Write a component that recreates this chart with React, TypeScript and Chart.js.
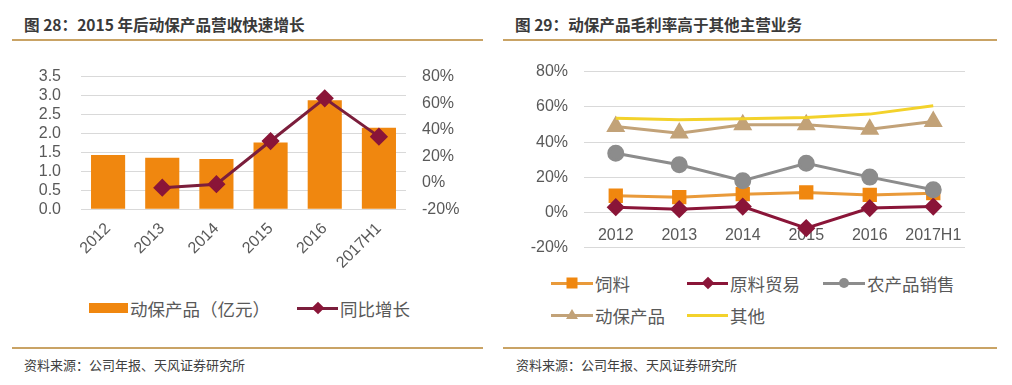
import React, { useEffect, useRef } from "react";
import Chart from "chart.js/auto";

const years = ["2012", "2013", "2014", "2015", "2016", "2017H1"];
const revenue = [1.43, 1.36, 1.33, 1.76, 2.88, 2.15];
const growth = [null, -3.7, -1.1, 31.5, 63.7, 34.8];

const feed = [9.5, 8.7, 10.4, 11.4, 10.0, 11.0];
const trade = [3.0, 1.9, 3.4, -8.9, 2.5, 3.4];
const agri = [33.7, 27.1, 18.0, 28.0, 20.1, 12.9];
const vet = [48.9, 45.1, 49.8, 49.8, 47.3, 51.7];
const other = [53.6, 52.7, 53.2, 54.0, 55.9, 60.6];

const FONT = '"Liberation Sans", "Noto Sans CJK SC", sans-serif';
const CJK = '"Noto Sans CJK SC", "Liberation Sans", sans-serif';
const TICK = "#595959";
const GRID = "#D9D9D9";
const GOLD = "#C9A365";

const ORANGE = "#F0870F";
const DARKRED = "#8A1538";
const GRAY = "#8C8C8C";
const TAN = "#C2A278";
const YELLOW = "#F3D22B";

const noPad = (s: any) => {
  s.paddingTop = 0;
  s.paddingBottom = 0;
};

function LeftChart() {
  const ref = useRef<HTMLCanvasElement>(null);
  useEffect(() => {
    const chart = new Chart(ref.current!, {
      type: "bar",
      data: {
        labels: years,
        datasets: [
          {
            type: "line",
            data: growth as any,
            yAxisID: "y1",
            borderColor: "#7B1E3C",
            borderWidth: 3,
            pointStyle: "rectRot",
            pointRadius: 7,
            pointBackgroundColor: DARKRED,
            pointBorderColor: DARKRED,
            order: 0,
          } as any,
          {
            type: "bar",
            data: revenue,
            yAxisID: "y",
            backgroundColor: ORANGE,
            barPercentage: 0.63,
            categoryPercentage: 1,
            order: 1,
          },
        ],
      },
      options: {
        animation: false,
        responsive: false,
        layout: { padding: { top: 16.7, left: 0, right: 0, bottom: 0 } },
        plugins: { legend: { display: false }, tooltip: { enabled: false } },
        scales: {
          x: {
            grid: { display: false, drawTicks: false },
            border: { display: false },
            ticks: {
              minRotation: 45,
              maxRotation: 45,
              autoSkip: false,
              padding: 10,
              color: TICK,
              font: { size: 16, family: FONT },
            },
            afterFit: (s: any) => {
              s.height = 75.7;
            },
          },
          y: {
            min: 0,
            max: 3.5,
            ticks: {
              stepSize: 0.5,
              autoSkip: false,
              callback: (v: any) => Number(v).toFixed(1),
              padding: 20,
              color: TICK,
              font: { size: 16, family: FONT },
            },
            grid: { color: GRID, drawTicks: false },
            border: { display: false },
            afterFit: (s: any) => {
              s.width = 81;
              noPad(s);
            },
          },
          y1: {
            position: "right",
            min: -20,
            max: 80,
            ticks: {
              stepSize: 20,
              autoSkip: false,
              callback: (v: any) => v + "%",
              padding: 16,
              color: TICK,
              font: { size: 16, family: FONT },
            },
            grid: { drawOnChartArea: false, drawTicks: false },
            border: { display: false },
            afterFit: (s: any) => {
              s.width = 84;
              noPad(s);
            },
          },
        },
      } as any,
    });
    return () => chart.destroy();
  }, []);
  return (
    <canvas
      ref={ref}
      width={490}
      height={225}
      style={{ position: "absolute", left: 0, top: 60, width: 490, height: 225 }}
    />
  );
}

function RightChart() {
  const ref = useRef<HTMLCanvasElement>(null);
  useEffect(() => {
    const mk = (data: number[], color: string, style: string, radius: number, pColor: string, order: number) => ({
      type: "line",
      data,
      borderColor: color,
      borderWidth: 3,
      pointStyle: style,
      pointRadius: radius,
      pointBackgroundColor: pColor,
      pointBorderColor: pColor,
      order,
    });
    const chart = new Chart(ref.current!, {
      type: "line",
      data: {
        labels: years,
        datasets: [
          mk(feed, "#E99A3A", "rect", 8, ORANGE, 5),
          mk(trade, DARKRED, "rectRot", 7, DARKRED, 4),
          mk(agri, GRAY, "circle", 7, GRAY, 3),
          mk(vet, TAN, "triangle", 8, TAN, 2),
          mk(other, YELLOW, "circle", 0, YELLOW, 1),
        ] as any,
      },
      options: {
        animation: false,
        responsive: false,
        layout: { padding: { top: 16.7, left: 0, right: 47, bottom: 17.3 } },
        plugins: { legend: { display: false }, tooltip: { enabled: false } },
        scales: {
          x: {
            position: { y: 0 },
            offset: true,
            grid: { display: false, drawTicks: false, offset: true },
            border: { display: false },
            ticks: {
              maxRotation: 0,
              minRotation: 0,
              autoSkip: false,
              padding: 13,
              color: TICK,
              font: { size: 16, family: FONT },
            },
          },
          y: {
            min: -20,
            max: 80,
            ticks: {
              stepSize: 20,
              autoSkip: false,
              callback: (v: any) => v + "%",
              padding: 16,
              color: TICK,
              font: { size: 16, family: FONT },
            },
            grid: { color: GRID, drawTicks: false },
            border: { display: false },
            afterFit: (s: any) => {
              s.width = 84;
              noPad(s);
            },
          },
        },
      } as any,
    });
    return () => chart.destroy();
  }, []);
  return (
    <canvas
      ref={ref}
      width={512}
      height={210}
      style={{ position: "absolute", left: 500, top: 55, width: 512, height: 210 }}
    />
  );
}

function Marker({ kind, color }: { kind: string; color: string }) {
  const base: React.CSSProperties = { position: "absolute", left: "50%", top: "50%" };
  if (kind === "diamond")
    return <div style={{ ...base, width: 9, height: 9, background: color, transform: "translate(-50%,-50%) rotate(45deg)" }} />;
  if (kind === "square")
    return <div style={{ ...base, width: 11, height: 11, background: color, transform: "translate(-50%,-50%)" }} />;
  if (kind === "circle")
    return <div style={{ ...base, width: 10, height: 10, borderRadius: 5, background: color, transform: "translate(-50%,-50%)" }} />;
  if (kind === "triangle")
    return (
      <div
        style={{
          ...base,
          width: 0,
          height: 0,
          borderLeft: "6px solid transparent",
          borderRight: "6px solid transparent",
          borderBottom: "10px solid " + color,
          transform: "translate(-50%,-60%)",
        }}
      />
    );
  return null;
}

function LegendItem({
  x,
  y,
  w,
  label,
  lineColor,
  marker,
  markerColor,
  rect,
}: {
  x: number;
  y: number;
  w: number;
  label: string;
  lineColor: string;
  marker?: string;
  markerColor?: string;
  rect?: boolean;
}) {
  return (
    <div style={{ position: "absolute", left: x, top: y - 12, height: 24, display: "flex", alignItems: "center" }}>
      <div style={{ position: "relative", width: w, height: 24 }}>
        <div
          style={{
            position: "absolute",
            left: 0,
            right: 0,
            top: rect ? 7 : 10.5,
            height: rect ? 10 : 3,
            background: lineColor,
          }}
        />
        {marker && <Marker kind={marker} color={markerColor || lineColor} />}
      </div>
      <span style={{ fontFamily: CJK, fontSize: 17.5, color: TICK, marginLeft: 2, whiteSpace: "nowrap" }}>{label}</span>
    </div>
  );
}

const titleStyle: React.CSSProperties = {
  position: "absolute",
  fontFamily: CJK,
  fontWeight: 700,
  fontSize: 15.6,
  color: "#3A3A3A",
  whiteSpace: "nowrap",
  lineHeight: "20px",
};
const sourceStyle: React.CSSProperties = {
  position: "absolute",
  fontFamily: CJK,
  fontSize: 13,
  color: "#404040",
  whiteSpace: "nowrap",
  lineHeight: "18px",
};

export default function App() {
  return (
    <div style={{ position: "absolute", left: 0, top: 0, width: 1012, height: 385, background: "#fff", overflow: "hidden" }}>
      <div style={{ ...titleStyle, left: 24, top: 14 }}>图 28：2015 年后动保产品营收快速增长</div>
      <div style={{ ...titleStyle, left: 515, top: 14 }}>图 29：动保产品毛利率高于其他主营业务</div>
      <div style={{ position: "absolute", left: 12, top: 39, width: 471, height: 2, background: GOLD }} />
      <div style={{ position: "absolute", left: 503, top: 39, width: 494, height: 2, background: GOLD }} />

      <LeftChart />
      <RightChart />

      <LegendItem x={89} y={308} w={39} label="动保产品（亿元）" lineColor={ORANGE} rect />
      <LegendItem x={297} y={308} w={41} label="同比增长" lineColor="#7B1E3C" marker="diamond" markerColor={DARKRED} />

      <LegendItem x={551} y={283} w={42} label="饲料" lineColor="#E99A3A" marker="square" markerColor={ORANGE} />
      <LegendItem x={687} y={283} w={41} label="原料贸易" lineColor={DARKRED} marker="diamond" markerColor={DARKRED} />
      <LegendItem x={823} y={283} w={42} label="农产品销售" lineColor={GRAY} marker="circle" markerColor={GRAY} />
      <LegendItem x={551} y={315} w={42} label="动保产品" lineColor={TAN} marker="triangle" markerColor={TAN} />
      <LegendItem x={687} y={315} w={41} label="其他" lineColor={YELLOW} />

      <div style={{ position: "absolute", left: 12, top: 347, width: 471, height: 2, background: GOLD }} />
      <div style={{ position: "absolute", left: 503, top: 347, width: 494, height: 2, background: GOLD }} />
      <div style={{ ...sourceStyle, left: 24, top: 356 }}>资料来源：公司年报、天风证券研究所</div>
      <div style={{ ...sourceStyle, left: 516, top: 356 }}>资料来源：公司年报、天风证券研究所</div>
    </div>
  );
}
